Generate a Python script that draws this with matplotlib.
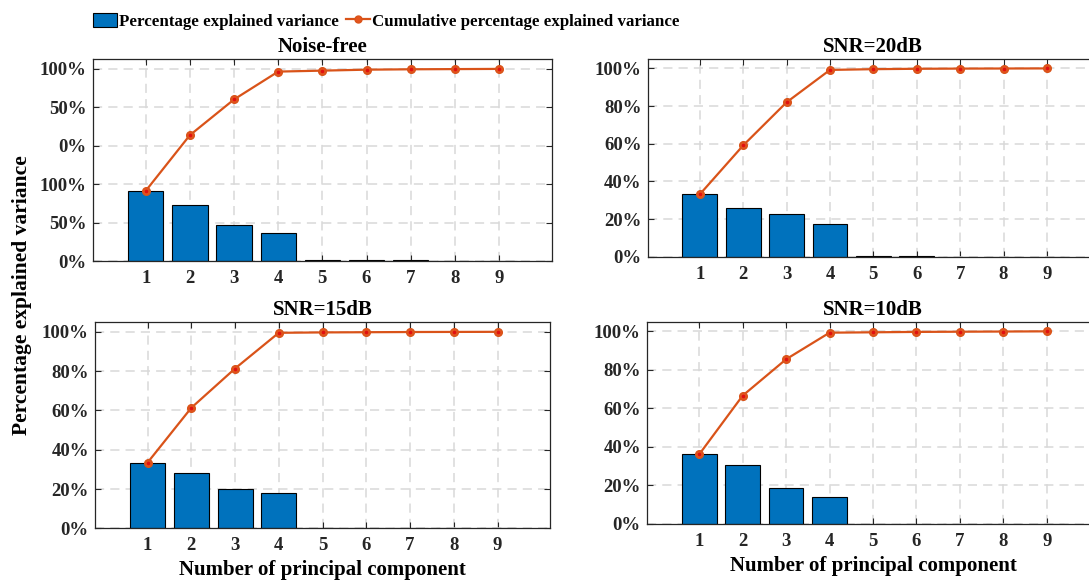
import matplotlib
matplotlib.use("Agg")
import matplotlib.pyplot as plt
from matplotlib.lines import Line2D
from matplotlib.patches import Patch

plt.rcParams['font.family'] = ['Liberation Serif', 'DejaVu Serif']
plt.rcParams['font.weight'] = 'bold'

# Principal component indices
components = [1, 2, 3, 4, 5, 6, 7, 8, 9]

# Percentage explained variance per component (%)
var_noise_free = [36.5, 29.0, 18.6, 14.4, 0.5, 0.5, 0.3, 0.1, 0.1]
var_snr20 = [33.1, 26.0, 22.9, 17.2, 0.4, 0.2, 0.1, 0.05, 0.05]
var_snr15 = [33.4, 27.9, 20.0, 18.2, 0.2, 0.1, 0.1, 0.05, 0.05]
var_snr10 = [36.1, 30.5, 18.9, 13.8, 0.2, 0.2, 0.1, 0.1, 0.1]

# Cumulative percentage explained variance (%)
cum_noise_free = [36.5, 65.5, 84.1, 98.6, 99.1, 99.6, 99.8, 99.9, 100.0]
cum_snr20 = [33.1, 59.1, 82.0, 99.2, 99.6, 99.8, 99.9, 99.95, 100.0]
cum_snr15 = [33.4, 61.3, 81.3, 99.5, 99.7, 99.8, 99.9, 99.95, 100.0]
cum_snr10 = [36.1, 66.6, 85.5, 99.3, 99.5, 99.7, 99.8, 99.9, 100.0]

# Panel titles and y tick labels
titles = ["Noise-free", "SNR=20dB", "SNR=15dB", "SNR=10dB"]
yticks = [0, 20, 40, 60, 80, 100]
ylabels_noise_free = ["0%", "50%", "100%", "0%", "50%", "100%"]
ylabels_std = ["0%", "20%", "40%", "60%", "80%", "100%"]

BAR_BLUE = "#0072BD"
LINE_ORANGE = "#D95319"
GRID_GRAY = "#d9d9d9"

W, H = 1089, 580
fig = plt.figure(figsize=(W / 100, H / 100), dpi=100)


def px_axes(left, top, right, bottom):
    return fig.add_axes([left / W, 1 - bottom / H, (right - left) / W, (bottom - top) / H])


axes = [
    px_axes(92.7, 59.3, 552, 261),
    px_axes(647.7, 59.0, 1099, 256.7),
    px_axes(95, 322, 550, 528.3),
    px_axes(647, 321.7, 1099, 524),
]

variances = [var_noise_free, var_snr20, var_snr15, var_snr10]
cumulatives = [cum_noise_free, cum_snr20, cum_snr15, cum_snr10]
ylabel_sets = [ylabels_noise_free, ylabels_std, ylabels_std, ylabels_std]

for i, ax in enumerate(axes):
    ax.set_axisbelow(True)
    ax.grid(True, color=GRID_GRAY, linestyle=(0, (6, 4)), linewidth=1.1)
    ax.bar(components, variances[i], width=0.8, color=BAR_BLUE,
           edgecolor="black", linewidth=0.8, zorder=2)
    ax.plot(components, cumulatives[i], color=LINE_ORANGE, linewidth=1.6,
            marker="o", markersize=5.5, markerfacecolor="#E4541E",
            markeredgecolor=LINE_ORANGE, zorder=3)
    ax.plot(components, cumulatives[i], linestyle="none", marker="o",
            markersize=1.6, color="#E01010", zorder=4)
    ax.set_xlim(-0.2, 10.2)
    ax.set_ylim(0, 105)
    ax.set_xticks(components)
    ax.set_xticklabels([str(c) for c in components])
    ax.set_yticks(yticks)
    ax.set_yticklabels(ylabel_sets[i])
    ax.tick_params(axis="both", direction="in", length=4, width=0.8,
                   top=True, right=True, labelsize=13.5, colors="#262626",
                   labelcolor="#262626")
    ax.tick_params(axis="x", pad=6.5)
    ax.tick_params(axis="y", pad=4.5)
    for lab in ax.get_xticklabels() + ax.get_yticklabels():
        lab.set_fontweight("bold")
    for sp in ax.spines.values():
        sp.set_color("#262626")
        sp.set_linewidth(0.9)
    ax.set_title(titles[i], fontsize=15, fontweight="bold", pad=5)

for ax in axes[2:]:
    ax.set_xlabel("Number of principal component", fontsize=15,
                  fontweight="bold", labelpad=4)

fig.text(22 / W, 1 - 295 / H, "Percentage explained variance", rotation=90,
         ha="center", va="center", fontsize=15.5, fontweight="bold")

handles = [
    Patch(facecolor=BAR_BLUE, edgecolor="black", linewidth=0.8),
    Line2D([0], [0], color=LINE_ORANGE, linewidth=1.6, marker="o",
           markersize=5, markerfacecolor="#E4541E", markeredgecolor=LINE_ORANGE),
]
fig.legend(handles, ["Percentage explained variance",
                     "Cumulative percentage explained variance"],
           loc="center left", bbox_to_anchor=(92.7 / W, 1 - 21.5 / H),
           ncol=2, frameon=False, borderpad=0, borderaxespad=0,
           handlelength=1.45, handleheight=0.9, handletextpad=0.1,
           columnspacing=0.4, prop={"weight": "bold", "size": 12.2})

fig.savefig("out.png", dpi=100)
